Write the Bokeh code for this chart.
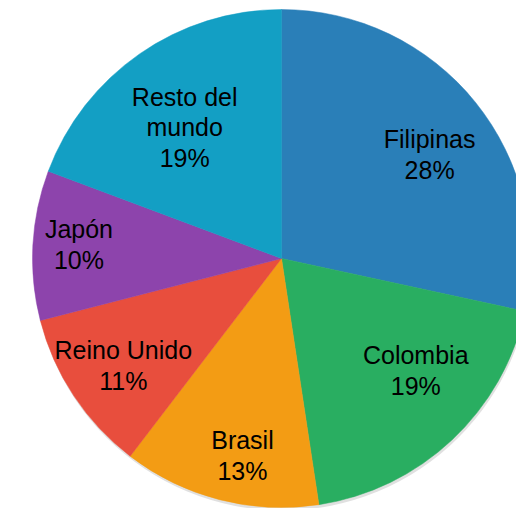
import numpy as np
from bokeh.plotting import figure
from bokeh.models import Range1d, ColumnDataSource
from bokeh.core.properties import value
from bokeh.embed import file_html
from bokeh.resources import INLINE

# Data
countries = ["Filipinas", "Colombia", "Brasil", "Reino Unido", "Japón", "Resto del mundo"]
label_texts = ["Filipinas", "Colombia", "Brasil", "Reino Unido", "Japón", "Resto del\nmundo"]
shares = [28.4, 19.2, 12.8, 10.6, 9.7, 19.3]

# Style
colors = ["#2A7FB8", "#29AE61", "#F39C14", "#E84E3D", "#8D44AC", "#139FC4"]
label_r = [181, 175, 201, 191, 203, 163]            # label distance from centre (px)
label_nudge = [-3.8, 6.9, 3.2, 0.6, -0.8, 1.7]      # degrees

W, H = 516, 508
cx, cy, R = 281, 250, 249

vals = np.array(shares, dtype=float)
frac = vals / vals.sum()
cum_end = np.cumsum(frac)
cum_start = cum_end - frac
start = np.pi / 2 - 2 * np.pi * cum_end
end = np.pi / 2 - 2 * np.pi * cum_start
mid = (start + end) / 2 + np.radians(label_nudge)
lx = cx + np.array(label_r) * np.cos(mid)
ly = cy + np.array(label_r) * np.sin(mid)
texts = [f"{t}\n{int(np.floor(f * 100 + 0.5))}%" for t, f in zip(label_texts, frac)]

src = ColumnDataSource(dict(country=countries, start=start, end=end, color=colors,
                            lx=lx, ly=ly, text=texts))

p = figure(width=W, height=H, output_backend="svg", toolbar_location=None,
           x_range=Range1d(0, W), y_range=Range1d(0, H), min_border=0)
p.axis.visible = False
p.grid.visible = False
p.outline_line_color = None
p.background_fill_color = "white"

# soft shadow
p.circle(x=[cx + 1], y=[cy - 3], radius=R, fill_color="#000000", fill_alpha=0.12, line_color=None)

p.wedge(x=cx, y=cy, radius=R, start_angle="start", end_angle="end",
        fill_color="color", line_color="color", line_width=0.5, source=src)

p.text(x="lx", y="ly", text="text", source=src, text_align="center", text_baseline="middle",
       text_font=value("Liberation Sans"), text_font_size="25px", text_color="#000000",
       text_line_height=1.1)

open("out.html", "w").write(file_html(p, INLINE))
